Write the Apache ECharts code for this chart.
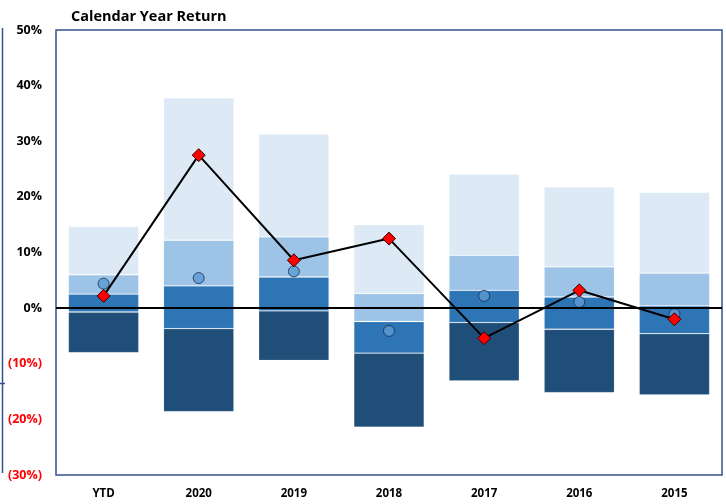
<!DOCTYPE html>
<html>
<head>
<meta charset="utf-8">
<script src="https://cdn.jsdelivr.net/npm/echarts@6/dist/echarts.min.js"></script>
<style>html,body{margin:0;padding:0;background:#fff;}#c{width:726px;height:504px;}</style>
</head>
<body>
<div id="c"></div>
<script>
// ---- data (percent) ----
var categories = ['YTD', '2020', '2019', '2018', '2017', '2016', '2015'];
var pct95 = [14.7, 37.8, 31.3, 15.0, 24.1, 21.8, 20.8];
var pct75 = [6.0, 12.2, 12.8, 2.6, 9.5, 7.4, 6.3];
var pct50 = [2.5, 4.0, 5.6, -2.4, 3.2, 2.0, 0.4];
var pct25 = [-0.7, -3.7, -0.5, -8.1, -2.6, -3.8, -4.6];
var pct5 = [-8.0, -18.6, -9.4, -21.4, -13.1, -15.2, -15.6];
var peerAverage = [4.4, 5.4, 6.6, -4.1, 2.2, 1.1, -1.1];
var fundReturn = [2.2, 27.5, 8.6, 12.5, -5.4, 3.2, -2.0];
var yTicks = [-30, -20, -10, 0, 10, 20, 30, 40, 50];

function diff(a, b) { return a.map(function (v, i) { return +(v - b[i]).toFixed(2); }); }

var chart = echarts.init(document.getElementById('c'), null, { renderer: 'canvas' });
var FONT = 'Open Sans';
var barBorder = { borderColor: 'rgba(255,255,255,0.18)', borderWidth: 0.8 };
function band(name, data, color) {
  return {
    name: name, type: 'bar', stack: 'range', stackStrategy: 'all', barWidth: '74%',
    data: data, itemStyle: Object.assign({ color: color }, barBorder), silent: true
  };
}
var option = {
  animation: false,
  title: {
    text: 'Calendar Year Return', left: 66, top: 4,
    textStyle: { fontFamily: FONT, fontWeight: 'bold', fontSize: 14.5, color: '#000' }
  },
  grid: {
    left: 56, right: 4, top: 30, bottom: 29, show: true,
    borderColor: '#34508a', borderWidth: 1.5, backgroundColor: 'transparent'
  },
  xAxis: {
    type: 'category', data: categories,
    axisLine: { show: false }, axisTick: { show: false },
    axisLabel: { margin: 13, fontFamily: FONT, fontWeight: 'bold', fontSize: 11.5, color: '#000' }
  },
  yAxis: {
    type: 'value', min: yTicks[0], max: yTicks[yTicks.length - 1], interval: 10,
    splitLine: { show: false }, axisLine: { show: false }, axisTick: { show: false },
    axisLabel: {
      margin: 14,
      formatter: function (v) { return v < 0 ? '{neg|(' + Math.abs(v) + '%)}' : '{pos|' + v + '%}'; },
      rich: {
        pos: { fontFamily: FONT, fontWeight: 'bold', fontSize: 12.5, color: '#000' },
        neg: { fontFamily: FONT, fontWeight: 'bold', fontSize: 12.5, color: '#ff0000' }
      }
    }
  },
  series: [
    { name: 'base', type: 'bar', stack: 'range', stackStrategy: 'all', barWidth: '74%',
      data: pct5, itemStyle: { color: 'rgba(0,0,0,0)' }, silent: true },
    band('5th-25th', diff(pct25, pct5), '#1f4e79'),
    band('25th-50th', diff(pct50, pct25), '#2e75b6'),
    band('50th-75th', diff(pct75, pct50), '#9dc3e6'),
    band('75th-95th', diff(pct95, pct75), '#ddeaf6'),
    {
      name: 'zero', type: 'line', data: [], silent: true,
      markLine: {
        silent: true, symbol: ['none', 'none'], label: { show: false },
        lineStyle: { color: '#000', width: 2, type: 'solid' },
        data: [{ yAxis: 0 }]
      }
    },
    {
      name: 'Peer Average', type: 'scatter', data: peerAverage, symbol: 'circle', symbolSize: 11,
      itemStyle: { color: '#5b9bd5', borderColor: '#1a2a48', borderWidth: 1 }, z: 4
    },
    {
      name: 'Fund', type: 'line', data: fundReturn, symbol: 'diamond', symbolSize: 13,
      lineStyle: { color: '#000', width: 2 },
      itemStyle: { color: '#ff0000', borderColor: '#3a0000', borderWidth: 1 }, z: 5
    }
  ],
  graphic: [
    { type: 'line', shape: { x1: 2.5, y1: 28, x2: 2.5, y2: 473 }, style: { stroke: '#34508a', lineWidth: 1.5 } },
    { type: 'line', shape: { x1: 0, y1: 383.5, x2: 5, y2: 383.5 }, style: { stroke: '#34508a', lineWidth: 1.5 } }
  ]
};
chart.setOption(option);
</script>
</body>
</html>
